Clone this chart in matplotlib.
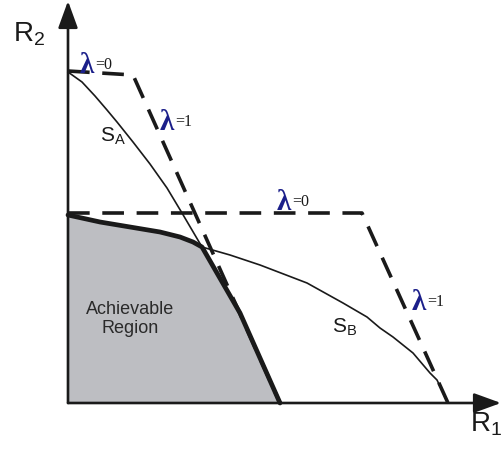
import matplotlib
matplotlib.use('Agg')
import matplotlib.pyplot as plt

plt.rcParams['font.family'] = ['Liberation Sans', 'DejaVu Sans']

# outer bounds (lambda sweeps), in rate units
bound_a_r1 = [0, 65, 212]
bound_a_r2 = [332, 328, 0]
bound_b_r1 = [0, 294, 380]
bound_b_r2 = [190, 190, 0]

# rate curves S_A and S_B
sa_r1 = [0, 14, 27, 39, 49, 65, 82, 99, 114, 134, 172, 212]
sa_r2 = [331, 321, 307, 293, 281, 261, 239, 215, 190, 156, 90, 0]
sb_r1 = [0, 32, 62, 92, 112, 125, 134, 162, 192, 239, 275, 299, 312, 325, 345, 362, 369, 380]
sb_r2 = [188, 181, 176, 171, 166, 161, 156, 148, 138, 120, 100, 86, 75, 66, 50, 30, 23, 0]

# achievable region = S_B up to crossing, then S_A
cross = 134
reg_r1 = [x for x in sb_r1 if x <= cross] + [x for x in sa_r1 if x > cross]
reg_r2 = [y for x, y in zip(sb_r1, sb_r2) if x <= cross] + [y for x, y in zip(sa_r1, sa_r2) if x > cross]

ink = '#1a1a1a'
blue = '#1b1f8a'

fig = plt.figure(figsize=(5.01, 4.49), dpi=100)
ax = fig.add_axes([0, 0, 1, 1])
ax.set_xlim(-68, 433)
ax.set_ylim(-46, 403)
ax.axis('off')

# region
ax.fill(reg_r1 + [0], reg_r2 + [0], color='#bdbec2', lw=0, zorder=1)
ax.plot(reg_r1, reg_r2, color=ink, lw=3.4, solid_capstyle='round', zorder=3)

# curves
ax.plot(sa_r1, sa_r2, color=ink, lw=1.2, zorder=4)
ax.plot(sb_r1, sb_r2, color=ink, lw=1.2, zorder=4)

# dashed bounds
ax.plot(bound_a_r1, bound_a_r2, color=ink, lw=2.6, linestyle=(0, (6, 3.5)), zorder=5)
ax.plot(bound_b_r1, bound_b_r2, color=ink, lw=2.6, linestyle=(0, (6, 3.5)), zorder=5)

# axes with arrows
arrow = dict(arrowstyle='-|>,head_length=0.55,head_width=0.2', lw=1.9, color=ink,
             mutation_scale=30, shrinkA=0, shrinkB=0)
ax.annotate('', xy=(0, 402), xytext=(0, 0), arrowprops=arrow, zorder=6)
ax.annotate('', xy=(433, 0), xytext=(0, 0), arrowprops=arrow, zorder=6)

# labels
ax.text(-55, 361, r'$\mathregular{R_2}$', fontsize=20, color=ink)
ax.text(402, -29, r'$\mathregular{R_1}$', fontsize=20, color=ink)
ax.text(32, 261, r'$\mathregular{S_A}$', fontsize=15, color=ink, zorder=7)
ax.text(264, 70, r'$\mathregular{S_B}$', fontsize=15, color=ink, zorder=7)
ax.text(62, 84, 'Achievable\nRegion', fontsize=13, color='#2a2a2a',
        ha='center', va='center', multialignment='center', zorder=7)

lam = [(12, 330, '=0'), (92, 273, '=1'), (209, 193, '=0'), (344, 93, '=1')]
for x, y, s in lam:
    ax.text(x, y, '\u03bb', fontsize=21, fontweight='bold', color=blue,
            family='Liberation Serif', zorder=7)
    ax.text(x + 15, y + 4, s, fontsize=11.5, color=ink, family='Liberation Serif', zorder=7)

fig.savefig('out.png', dpi=100)
